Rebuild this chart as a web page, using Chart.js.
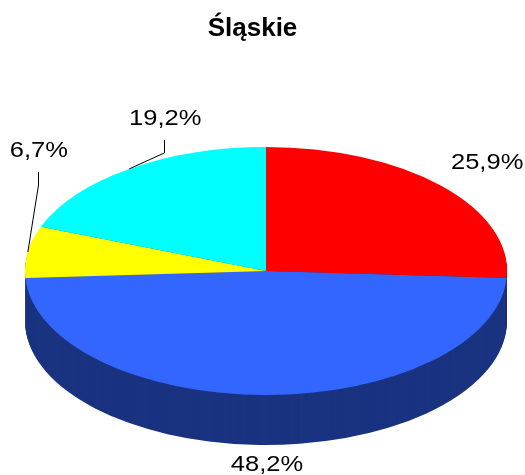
<!DOCTYPE html>
<html>
<head>
<meta charset="utf-8">
<script src="https://cdn.jsdelivr.net/npm/chart.js@4/dist/chart.umd.min.js"></script>
<style>
    html, body { margin: 0; padding: 0; background: #fff; }
    canvas { display: block; }
</style>
</head>
<body>
<canvas id="slaskie" width="525" height="475"></canvas>
<script>
// ============================================================================
// ŚLĄSKIE - 3D PIE CHART
// ============================================================================

const chartTitle = 'Śląskie';
const sliceValues = [25.9, 48.2, 6.7, 19.2];
const sliceLabels = sliceValues.map(v => v.toFixed(1).replace('.', ',') + '%');
const topColors = ['#FF0000', '#3366FF', '#FFFF00', '#00FFFF'];
const sideColors = ['#800000', '#1A3380', '#808000', '#008080'];

// projection of the pie on the page (ellipse centre, radii, thickness)
const PIE = { cx: 266, cy: 271, rx: 241, ry: 124, depth: 50 };

// where each label sits relative to the edge point of its slice
const labelOffsets = [
    { dx: 45, dy: -24, leader: false },
    { dx: 0, dy: 69, leader: false },
    { dx: 10, dy: -102, leader: true },
    { dx: 35, dy: -51, leader: true }
];

/**
 * Tilt the context so the library's round pie becomes a flat ellipse
 */
function applyTilt(ctx, arc, shift) {
    const r = arc.outerRadius;
    ctx.translate(PIE.cx, PIE.cy + shift);
    ctx.scale(PIE.rx / r, PIE.ry / r);
    ctx.translate(-arc.x, -arc.y);
}

const pie3d = {
    id: 'pie3d',
    beforeDatasetsDraw(chart) {
        const ctx = chart.ctx;
        const arcs = chart.getDatasetMeta(0).data;
        const first = arcs[0];

        // side wall: stack darker copies of the slices below the top face
        for (let d = PIE.depth; d > 0; d--) {
            ctx.save();
            applyTilt(ctx, first, d);
            arcs.forEach((arc, i) => {
                const p = arc.getProps(['x', 'y', 'startAngle', 'endAngle', 'outerRadius'], true);
                ctx.fillStyle = sideColors[i];
                ctx.beginPath();
                ctx.moveTo(p.x, p.y);
                ctx.arc(p.x, p.y, p.outerRadius, p.startAngle, p.endAngle);
                ctx.closePath();
                ctx.fill();
            });
            ctx.restore();
        }

        // top face is drawn by Chart.js itself inside the tilted context
        ctx.save();
        applyTilt(ctx, first, 0);
    },
    afterDatasetsDraw(chart) {
        const ctx = chart.ctx;
        ctx.restore();

        const arcs = chart.getDatasetMeta(0).data;
        ctx.save();
        ctx.font = '22px "Liberation Sans", Arial, sans-serif';
        ctx.fillStyle = '#000';
        ctx.strokeStyle = '#000';
        ctx.lineWidth = 1;
        ctx.textAlign = 'center';
        ctx.textBaseline = 'middle';

        arcs.forEach((arc, i) => {
            const p = arc.getProps(['startAngle', 'endAngle'], true);
            const mid = (p.startAngle + p.endAngle) / 2;
            const ax = PIE.cx + PIE.rx * Math.cos(mid);
            const ay = PIE.cy + PIE.ry * Math.sin(mid);
            const off = labelOffsets[i];
            const lx = ax + off.dx;
            const ly = ay + off.dy;

            if (off.leader) {
                const vx = Math.round(lx) + 0.5;
                ctx.beginPath();
                ctx.moveTo(vx, ly + 22);
                ctx.lineTo(vx, ly + 35);
                ctx.lineTo(ax, ay);
                ctx.stroke();
            }
            ctx.save();
            ctx.translate(lx + 1, ly + 1);
            ctx.scale(1.16, 1);
            ctx.fillText(sliceLabels[i], 0, 0);
            ctx.restore();
        });
        ctx.restore();
    }
};

const ctx = document.getElementById('slaskie').getContext('2d');

const chart = new Chart(ctx, {
    type: 'pie',
    data: {
        labels: sliceLabels,
        datasets: [{
            data: sliceValues,
            backgroundColor: topColors,
            borderWidth: 0,
            clip: false
        }]
    },
    options: {
        responsive: false,
        devicePixelRatio: 1,
        animation: false,
        events: [],
        layout: {
            padding: { top: 0, bottom: 10, left: 10, right: 30 }
        },
        plugins: {
            legend: { display: false },
            tooltip: { enabled: false },
            title: {
                display: true,
                text: chartTitle,
                color: '#000',
                font: {
                    family: '"Liberation Sans", Arial, sans-serif',
                    size: 26,
                    weight: 'bold'
                },
                padding: { top: 13, bottom: 10 }
            }
        }
    },
    plugins: [pie3d]
});
</script>
</body>
</html>
